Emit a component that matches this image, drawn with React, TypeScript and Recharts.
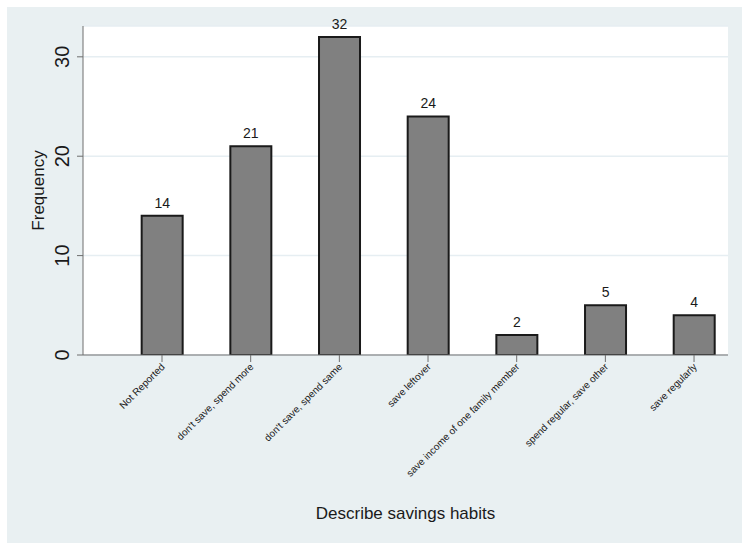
import { BarChart, Bar, XAxis, YAxis, CartesianGrid, LabelList } from "recharts";

const categories = [
  "Not Reported",
  "don't save, spend more",
  "don't save, spend same",
  "save leftover",
  "save income of one family member",
  "spend regular, save other",
  "save regularly",
];
const frequencies = [14, 21, 32, 24, 2, 5, 4];
const yTicks = [0, 10, 20, 30];
const xTicks = [1, 2, 3, 4, 5, 6, 7];

const data = categories.map((name, i) => ({ pos: i + 1, name, freq: frequencies[i] }));

const FONT = "'Liberation Sans', Arial, Helvetica, sans-serif";
const INK = "#1a1a1a";
const AXIS = "#6e6e6e";

const YTick = ({ x, y, payload }: any) => {
  const cx = x - 13;
  return (
    <text
      x={cx}
      y={y}
      transform={`rotate(-90, ${cx}, ${y})`}
      textAnchor="middle"
      dominantBaseline="central"
      fontSize={20}
      fontFamily={FONT}
      fill={INK}
    >
      {payload.value}
    </text>
  );
};

const XTick = ({ x, y, payload }: any) => {
  const label = categories[payload.value - 1] ?? "";
  const tx = x + 1;
  const ty = y + 1;
  return (
    <text
      x={tx}
      y={ty}
      transform={`rotate(-45, ${tx}, ${ty})`}
      textAnchor="end"
      dominantBaseline="central"
      fontSize={10}
      fontFamily={FONT}
      fill={INK}
    >
      {label}
    </text>
  );
};

export default function App() {
  return (
    <div style={{ position: "absolute", left: 7, top: 7, width: 735, height: 536, background: "#e9f0f2" }}>
      <BarChart
        width={735}
        height={536}
        data={data}
        margin={{ top: 19, right: 14, left: 0, bottom: 0 }}
        style={{ fontFamily: FONT }}
      >
        <CartesianGrid horizontal vertical={false} stroke="#e6eef2" strokeWidth={1.5} fill="#ffffff" />
        <XAxis
          dataKey="pos"
          type="number"
          domain={[0.109, 7.383]}
          ticks={xTicks}
          interval={0}
          height={188}
          tickSize={7}
          tick={<XTick />}
          stroke={AXIS}
          tickLine={{ stroke: AXIS }}
          allowDataOverflow
          label={{
            value: "Describe savings habits",
            position: "insideBottom",
            offset: 24,
            fontSize: 17,
            fill: INK,
            fontFamily: FONT,
          }}
        />
        <YAxis
          type="number"
          domain={[0, 33.1]}
          ticks={yTicks}
          width={76}
          tickSize={6}
          tick={<YTick />}
          stroke={AXIS}
          tickLine={{ stroke: AXIS }}
          allowDataOverflow
          label={{
            content: ({ viewBox }: any) => {
              const cy = viewBox.y + viewBox.height / 2;
              return (
                <text
                  x={31}
                  y={cy}
                  transform={`rotate(-90, 31, ${cy})`}
                  textAnchor="middle"
                  dominantBaseline="central"
                  fontSize={17}
                  fontFamily={FONT}
                  fill={INK}
                >
                  Frequency
                </text>
              );
            },
          }}
        />
        <Bar dataKey="freq" fill="#808080" stroke={INK} strokeWidth={2} barSize={41} isAnimationActive={false}>
          <LabelList dataKey="freq" position="top" offset={8} fontSize={14} fill={INK} fontFamily={FONT} />
        </Bar>
      </BarChart>
    </div>
  );
}
